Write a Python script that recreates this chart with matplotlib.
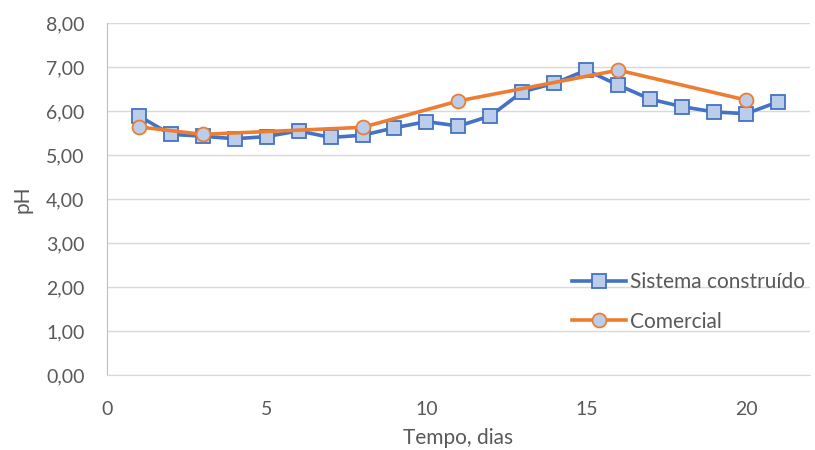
import matplotlib.pyplot as plt
from matplotlib.ticker import FuncFormatter

plt.rcParams['font.family'] = ['Lato', 'DejaVu Sans']

dias_sistema = list(range(1, 22))
ph_sistema = [5.89, 5.47, 5.43, 5.37, 5.42, 5.55, 5.40, 5.45, 5.62, 5.76, 5.66,
              5.89, 6.44, 6.63, 6.93, 6.59, 6.27, 6.10, 5.98, 5.94, 6.21]

dias_comercial = [1, 3, 8, 11, 16, 20]
ph_comercial = [5.64, 5.47, 5.63, 6.23, 6.93, 6.25]

azul = '#4472C4'
laranja = '#ED7D31'
preenchimento = '#BCCDEA'
cinza = '#595959'

fig = plt.figure(figsize=(8.15, 4.5), dpi=100)
ax = fig.add_axes([0.131, 0.1667, 0.863, 0.782])

ax.plot(dias_sistema, ph_sistema, color=azul, linewidth=2.6, marker='s',
        markersize=10.5, markerfacecolor=preenchimento, markeredgecolor=azul,
        markeredgewidth=1.3, label='Sistema construído', zorder=3)
ax.plot(dias_comercial, ph_comercial, color=laranja, linewidth=2.6, marker='o',
        markersize=10, markerfacecolor=preenchimento, markeredgecolor=laranja,
        markeredgewidth=1.3, label='Comercial', zorder=4)

ax.set_xlim(0, 22)
ax.set_ylim(0, 8)
ax.set_xticks(range(0, 21, 5))
ax.set_yticks(range(0, 9))
ax.yaxis.set_major_formatter(FuncFormatter(lambda v, p: f'{v:.2f}'.replace('.', ',')))

ax.grid(axis='y', color='#D9D9D9', linewidth=1)
ax.set_axisbelow(True)
for s in ['top', 'right']:
    ax.spines[s].set_visible(False)
ax.spines['bottom'].set_color('#D9D9D9')
ax.spines['left'].set_color('#BFBFBF')
ax.tick_params(axis='both', length=0, labelsize=14, colors=cinza)
ax.tick_params(axis='x', pad=19)
ax.tick_params(axis='y', pad=16)

ax.set_xlabel('Tempo, dias', fontsize=15, color=cinza, labelpad=7)
ax.set_ylabel('pH', fontsize=15, color=cinza, labelpad=10)

leg = ax.legend(loc='lower right', bbox_to_anchor=(1.02, 0.07), frameon=False,
                fontsize=15, labelcolor=cinza, handlelength=2.6,
                labelspacing=0.95, handletextpad=0.2)

fig.savefig('out.png', dpi=100)
